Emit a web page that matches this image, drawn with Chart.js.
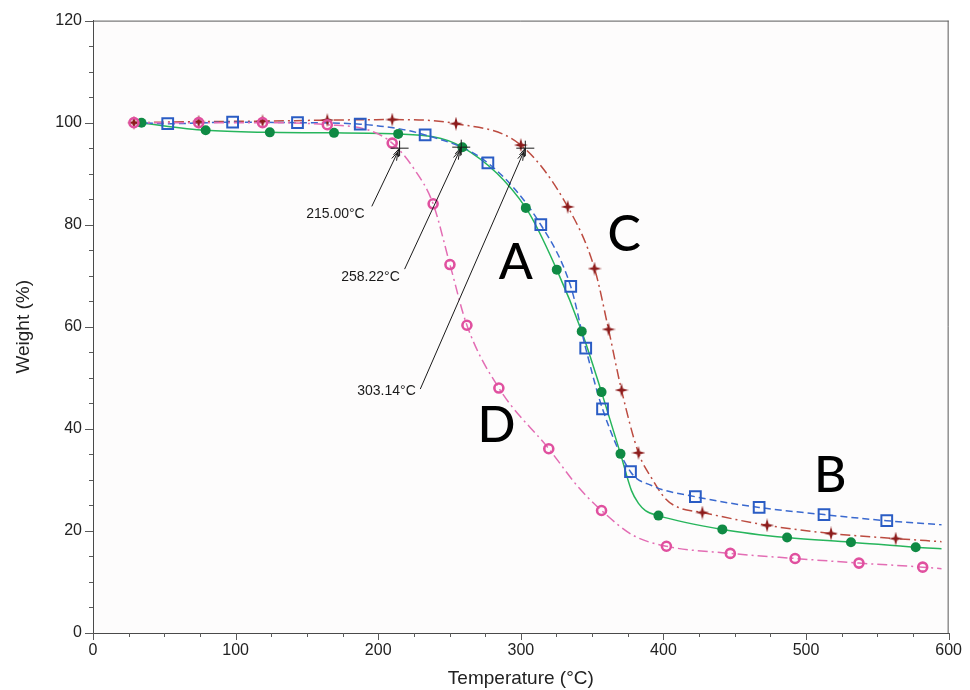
<!DOCTYPE html>
<html><head><meta charset="utf-8">
<script src="https://cdn.jsdelivr.net/npm/chart.js@4.4.1/dist/chart.umd.min.js"></script>
<style>html,body{margin:0;padding:0;background:#fff;}#wrap{width:970px;height:690px;position:relative;}</style>
</head><body><div id="wrap"><canvas id="c" width="970" height="690"></canvas></div>
<script>
// ---- data ----
const xTickValues = [0,100,200,300,400,500,600];
const yTickValues = [0,20,40,60,80,100,120];

// Curve A (green, solid)
const curveA_T = [32, 79, 124, 169, 214, 259, 303.5, 325.2, 342.7, 356.6, 369.9, 377.6, 382.5, 387.4, 396.5, 441.3, 486.7, 531.5, 576.9, 595];
const curveA_W = [100, 98.5, 98.1, 98.0, 97.8, 95.2, 83.3, 71.2, 59.1, 47.2, 35.1, 27.9, 25.4, 24.0, 23.0, 20.3, 18.7, 17.8, 16.8, 16.5];
const markA_T = [34, 79, 124, 169, 214, 259, 303.5, 325.2, 342.7, 356.6, 369.9, 396.5, 441.3, 486.7, 531.5, 576.9];
const markA_W = [100, 98.5, 98.1, 98.0, 97.8, 95.2, 83.3, 71.2, 59.1, 47.2, 35.1, 23.0, 20.3, 18.7, 17.8, 16.8];

// Curve B (blue, dashed)
const curveB_T = [29.4, 52.4, 97.9, 143.4, 187.4, 232.9, 276.9, 314.0, 335.0, 345.5, 357.3, 376.9, 391.6, 422.4, 467.1, 512.6, 556.6, 595];
const curveB_W = [100.0, 99.8, 100.1, 100.0, 99.7, 97.6, 92.1, 80.0, 67.9, 55.8, 43.9, 31.6, 28.9, 26.7, 24.6, 23.2, 22.0, 21.2];
const markB_T = [52.4, 97.9, 143.4, 187.4, 232.9, 276.9, 314.0, 335.0, 345.5, 357.3, 376.9, 422.4, 467.1, 512.6, 556.6];
const markB_W = [99.8, 100.1, 100.0, 99.7, 97.6, 92.1, 80.0, 67.9, 55.8, 43.9, 31.6, 26.7, 24.6, 23.2, 22.0];

// Curve C (red, dash-dot)
const curveC_T = [28.7, 74.1, 118.9, 164.3, 209.8, 254.5, 300.0, 332.9, 351.7, 361.5, 370.6, 382.5, 391.6, 401.4, 410.5, 427.3, 472.7, 517.5, 562.9, 595];
const curveC_W = [100.0, 100.2, 100.3, 100.5, 100.6, 99.8, 95.6, 83.5, 71.4, 59.5, 47.6, 35.3, 30.4, 26.3, 24.6, 23.6, 21.1, 19.5, 18.5, 17.9];
const markC_T = [28.7, 74.1, 118.9, 164.3, 209.8, 254.5, 300.0, 332.9, 351.7, 361.5, 370.6, 382.5, 427.3, 472.7, 517.5, 562.9];
const markC_W = [100.0, 100.2, 100.3, 100.5, 100.6, 99.8, 95.6, 83.5, 71.4, 59.5, 47.6, 35.3, 23.6, 21.1, 19.5, 18.5];

// Curve D (pink, dash-dot)
const curveD_T = [28.7, 74.1, 118.9, 164.3, 193.7, 209.8, 225, 238.5, 250.3, 262.2, 284.6, 319.6, 340.6, 356.6, 379, 402.1, 446.9, 492.3, 537.1, 581.8, 595];
const curveD_W = [100.0, 100.0, 100.0, 99.6, 98.5, 96.0, 91.0, 84.1, 72.2, 60.3, 48.0, 36.1, 28.5, 24.0, 19.1, 17.0, 15.6, 14.6, 13.7, 12.9, 12.6];
const markD_T = [28.7, 74.1, 118.9, 164.3, 209.8, 238.5, 250.3, 262.2, 284.6, 319.6, 356.6, 402.1, 446.9, 492.3, 537.1, 581.8];
const markD_W = [100.0, 100.0, 100.0, 99.6, 96.0, 84.1, 72.2, 60.3, 48.0, 36.1, 24.0, 17.0, 15.6, 14.6, 13.7, 12.9];

// Onset annotations
const onsetT = [215.00, 258.22, 303.14];
const onsetW = [95.0, 95.2, 95.0];
const onsetLabels = ['215.00°C', '258.22°C', '303.14°C'];
const curveLetters = ['A', 'B', 'C', 'D'];

// ---- helpers ----
const pts = (T, W) => T.map((t, i) => ({x: t, y: W[i]}));

function starImage(color) {
  const c = document.createElement('canvas');
  c.width = 14; c.height = 14;
  const g = c.getContext('2d');
  g.fillStyle = color;
  g.beginPath();
  g.moveTo(7, 0); g.lineTo(8.5, 5.5); g.lineTo(14, 7); g.lineTo(8.5, 8.5);
  g.lineTo(7, 14); g.lineTo(5.5, 8.5); g.lineTo(0, 7); g.lineTo(5.5, 5.5);
  g.closePath(); g.fill();
  return c;
}
const star = starImage('#8c1c1c');

const lineDs = (T, W, color, dash, order) => ({
  data: pts(T, W), showLine: true, borderColor: color, borderWidth: 1.5,
  borderDash: dash, pointRadius: 0, cubicInterpolationMode: 'monotone',
  fill: false, order: order
});

// ---- plugins ----
const frameAndTicks = {
  id: 'frameAndTicks',
  beforeDraw(chart) {
    const {ctx, chartArea: a} = chart;
    ctx.save();
    ctx.fillStyle = '#fdfcfc';
    ctx.fillRect(a.left, a.top, a.right - a.left, a.bottom - a.top);
    ctx.restore();
  },
  afterDraw(chart) {
    const {ctx, chartArea: a, scales: {x, y}} = chart;
    ctx.save();
    ctx.strokeStyle = '#5a5a5a';
    ctx.lineWidth = 1;
    ctx.beginPath();
    ctx.moveTo(a.left, a.top + 0.5); ctx.lineTo(a.right, a.top + 0.5);
    ctx.moveTo(a.right - 0.5, a.top); ctx.lineTo(a.right - 0.5, a.bottom);
    for (let v = 0; v <= 600; v += 25) {
      const px = Math.round(x.getPixelForValue(v)) + 0.5;
      const len = v % 100 === 0 ? 7 : 4;
      ctx.moveTo(px, a.bottom); ctx.lineTo(px, a.bottom + len);
    }
    for (let v = 0; v <= 120; v += 5) {
      const py = Math.round(y.getPixelForValue(v)) + 0.5;
      const len = v % 20 === 0 ? 8 : 4;
      ctx.moveTo(a.left, py); ctx.lineTo(a.left - len, py);
    }
    ctx.stroke();
    ctx.restore();
  }
};

const annotations = {
  id: 'annotations',
  afterDatasetsDraw(chart) {
    const {ctx, scales: {x, y}} = chart;
    const labelPos = [
      {tx: 170.0, tw: 82.0, fx: 195.5, fw: 83.6},
      {tx: 194.6, tw: 69.8, fx: 218.5, fw: 71.3},
      {tx: 205.8, tw: 47.3, fx: 229.5, fw: 47.8}
    ];
    ctx.save();
    ctx.strokeStyle = '#1a1a1a';
    ctx.fillStyle = '#1a1a1a';
    ctx.lineWidth = 1;
    onsetT.forEach((t, i) => {
      const ex = x.getPixelForValue(t), ey = y.getPixelForValue(onsetW[i]);
      const p = labelPos[i];
      const sx = x.getPixelForValue(p.fx), sy = y.getPixelForValue(p.fw);
      ctx.beginPath();
      ctx.moveTo(sx, sy); ctx.lineTo(ex, ey);
      ctx.moveTo(ex - 9, ey); ctx.lineTo(ex + 9, ey);
      ctx.moveTo(ex, ey - 7.5); ctx.lineTo(ex, ey + 8);
      const ang = Math.atan2(ey - sy, ex - sx);
      for (const back of [0, 4]) {
        const bx = ex - back * Math.cos(ang), by = ey - back * Math.sin(ang);
        for (const s of [-1, 1]) {
          const a2 = ang + Math.PI - s * 0.3;
          ctx.moveTo(bx, by);
          ctx.lineTo(bx + 9 * Math.cos(a2), by + 9 * Math.sin(a2));
        }
      }
      ctx.stroke();
      ctx.font = '14px "Liberation Sans", Arial, sans-serif';
      ctx.textAlign = 'center';
      ctx.textBaseline = 'middle';
      ctx.fillText(onsetLabels[i], x.getPixelForValue(p.tx), y.getPixelForValue(p.tw));
    });
    const letterPos = [
      {t: 296.5, w: 72.6}, {t: 517.0, w: 30.8}, {t: 372.5, w: 78.0}, {t: 283.0, w: 40.6}
    ];
    ctx.font = '500 50px Lato, "Open Sans", sans-serif';
    ctx.fillStyle = '#000';
    ctx.textAlign = 'center';
    ctx.textBaseline = 'middle';
    curveLetters.forEach((L, i) => {
      ctx.fillText(L, x.getPixelForValue(letterPos[i].t), y.getPixelForValue(letterPos[i].w));
    });
    ctx.restore();
  }
};

// ---- chart ----
const tickFont = {family: '"Liberation Sans", Arial, sans-serif', size: 16};
new Chart(document.getElementById('c'), {
  type: 'scatter',
  data: {
    datasets: [
      {data: pts(markD_T, markD_W), showLine: false, pointStyle: 'circle', pointRadius: 4.5,
       pointBorderWidth: 2.6, pointBorderColor: '#e0509f', pointBackgroundColor: 'rgba(0,0,0,0)', order: 1},
      {data: pts(markB_T, markB_W), showLine: false, pointStyle: 'rect', pointRadius: 7.6,
       pointBorderWidth: 2, pointBorderColor: '#2a5cc4', pointBackgroundColor: 'rgba(0,0,0,0)', order: 2},
      {data: pts(markC_T, markC_W), showLine: false, pointStyle: star, pointRadius: 7, order: 3},
      {data: pts(markA_T, markA_W), showLine: false, pointStyle: 'circle', pointRadius: 5,
       pointBorderWidth: 0, pointBackgroundColor: '#0f8a44', pointBorderColor: '#0f8a44', order: 4},
      lineDs(curveD_T, curveD_W, '#e36db4', [10, 4, 2, 4], 5),
      lineDs(curveB_T, curveB_W, '#3a69cf', [7, 4], 6),
      lineDs(curveC_T, curveC_W, '#bc4b40', [10, 4, 2, 4], 7),
      lineDs(curveA_T, curveA_W, '#27b55c', [], 8)
    ]
  },
  options: {
    responsive: false,
    animation: false,
    events: [],
    layout: {padding: {left: 0, right: 17, top: 18, bottom: 0}},
    plugins: {legend: {display: false}, tooltip: {enabled: false}},
    scales: {
      x: {
        type: 'linear', min: 0, max: 600,
        afterBuildTicks: s => { s.ticks = xTickValues.map(v => ({value: v})); },
        ticks: {font: tickFont, color: '#222', padding: 8, maxRotation: 0, autoSkip: false},
        grid: {display: false, drawTicks: false},
        border: {display: true, color: '#4a4a4a', width: 1},
        title: {display: true, text: 'Temperature (°C)', color: '#222',
                font: {family: '"Liberation Sans", Arial, sans-serif', size: 19}, padding: {top: 0, bottom: 0}},
        afterFit: s => { s.height = 57; }
      },
      y: {
        type: 'linear', min: 0, max: 120,
        afterBuildTicks: s => { s.ticks = yTickValues.map(v => ({value: v})); },
        ticks: {font: tickFont, color: '#222', padding: 11, autoSkip: false},
        grid: {display: false, drawTicks: false},
        border: {display: true, color: '#4a4a4a', width: 1},
        title: {display: true, text: 'Weight (%)', color: '#222',
                font: {family: '"Liberation Sans", Arial, sans-serif', size: 19}, padding: {top: 12, bottom: 0}},
        afterFit: s => { s.width = 93; }
      }
    }
  },
  plugins: [frameAndTicks, annotations]
});
</script>
</body></html>
